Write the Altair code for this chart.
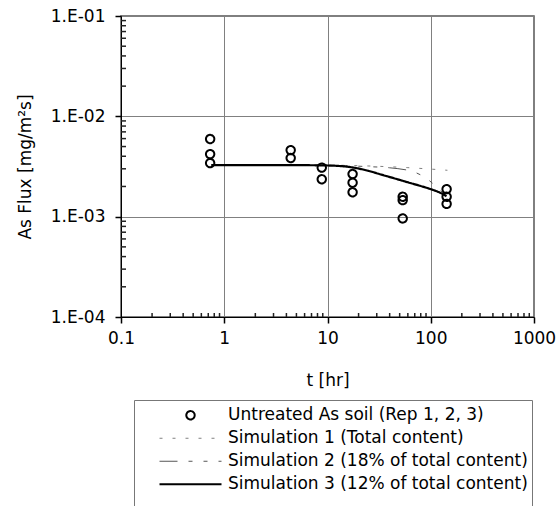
import altair as alt
import pandas as pd

# ---- data ----
series = [
    "Untreated As soil (Rep 1, 2, 3)",
    "Simulation 1 (Total content)",
    "Simulation 2 (18% of total content)",
    "Simulation 3 (12% of total content)",
]

obs_t = [0.73, 0.73, 0.73, 4.4, 4.4, 8.8, 8.8, 17.5, 17.5, 17.5,
         53.5, 53.5, 53.5, 142.5, 142.5, 142.5]
obs_flux = [5.94e-3, 4.2e-3, 3.42e-3, 4.6e-3, 3.84e-3, 3.08e-3, 2.36e-3,
            2.66e-3, 2.18e-3, 1.75e-3, 1.58e-3, 1.46e-3, 0.96e-3,
            1.88e-3, 1.58e-3, 1.34e-3]

sim1_t = [0.75, 10, 30, 60, 100, 145]
sim1_flux = [3.28e-3, 3.26e-3, 3.18e-3, 3.08e-3, 2.98e-3, 2.9e-3]

sim2_t = [0.75, 5, 15, 25, 40, 68, 91, 114, 140]
sim2_flux = [3.27e-3, 3.27e-3, 3.22e-3, 3.15e-3, 3.07e-3, 2.8e-3, 2.4e-3,
             1.98e-3, 1.62e-3]

sim3_t = [0.75, 3, 8, 13, 18, 25, 33, 45, 60, 80, 100, 125, 142]
sim3_flux = [3.27e-3, 3.27e-3, 3.25e-3, 3.2e-3, 3.08e-3, 2.86e-3, 2.63e-3,
             2.4e-3, 2.2e-3, 2.02e-3, 1.88e-3, 1.72e-3, 1.6e-3]

x_major_vals = [0.1, 1, 10, 100, 1000]
x_minor_vals = [m * d for d in [0.1, 1, 10, 100] for m in range(2, 10)]
y_major_vals = [1e-4, 1e-3, 1e-2, 1e-1]
y_minor_vals = [m * d for d in [1e-4, 1e-3, 1e-2] for m in range(2, 10)]

# ---- tables ----
obs_df = pd.DataFrame({"t": obs_t, "flux": obs_flux, "series": series[0]})
sim_df = pd.concat([
    pd.DataFrame({"t": sim1_t, "flux": sim1_flux, "series": series[1]}),
    pd.DataFrame({"t": sim2_t, "flux": sim2_flux, "series": series[2]}),
    pd.DataFrame({"t": sim3_t, "flux": sim3_flux, "series": series[3]}),
], ignore_index=True)
xminor_df = pd.DataFrame({"t": x_minor_vals, "base": y_major_vals[0]})
yminor_df = pd.DataFrame({"flux": y_minor_vals, "base": x_major_vals[0]})

FONT = "DejaVu Sans"

x_scale = alt.Scale(type="log", domain=[0.1, 1000], nice=False)
y_scale = alt.Scale(type="log", domain=[1e-4, 1e-1], nice=False)

color_s = alt.Scale(domain=series, range=["#000000", "#808080", "#555555", "#000000"])
shape_s = alt.Scale(domain=series, range=["circle", "stroke", "stroke", "stroke"])
size_s = alt.Scale(type="ordinal", domain=series, range=[70, 3844, 3844, 3844])
dash_s = alt.Scale(domain=series, range=[[1, 0], [3, 10], [18, 11, 4, 11, 4, 11], [1, 0]])
width_s = alt.Scale(type="ordinal", domain=series, range=[2, 1, 1, 2.2])

NBSP = "\u00a0" * 7
legend = alt.Legend(
    orient="none", legendX=13, legendY=384, direction="vertical",
    padding=4, clipHeight=22.5, rowPadding=0, symbolOffset=20, labelOffset=5,
    labelFont=FONT, labelFontSize=17, labelColor="black", labelLimit=500,
    labelExpr=f"datum.label + '{NBSP}'",
    strokeColor="#777777", fillColor="white",
    title=" ", titleOrient="bottom", titlePadding=6, titleFontSize=17,
)

x_axis = alt.Axis(
    values=x_major_vals, format="~g", title="t [hr]", orient="bottom",
    grid=True, ticks=True, tickSize=6, tickWidth=1.5, tickColor="black",
    labelPadding=7, titlePadding=26, labelFlush=False, labelOverlap=False,
)
y_axis = alt.Axis(
    values=y_major_vals, title="As Flux [mg/m\u00b2s]", orient="left",
    grid=True, ticks=True, tickSize=6, tickWidth=1.5, tickColor="black",
    labelPadding=10, titlePadding=16, labelFlush=False, labelOverlap=False,
    labelExpr="'1.E-0' + round(-log(datum.value) / LN10)",
)

# minor ticks, pointing into the plot
xminor = alt.Chart(xminor_df).mark_rule(color="#222222", strokeWidth=1.5, y2Offset=-4).encode(
    x=alt.X("t:Q", scale=x_scale, axis=x_axis),
    y=alt.Y("base:Q", scale=y_scale, axis=y_axis),
    y2="base:Q",
)
yminor = alt.Chart(yminor_df).mark_rule(color="#222222", strokeWidth=1.5, x2Offset=5).encode(
    y=alt.Y("flux:Q", scale=y_scale),
    x=alt.X("base:Q", scale=x_scale),
    x2="base:Q",
)

lines = alt.Chart(sim_df).mark_line(interpolate="monotone").encode(
    x=alt.X("t:Q", scale=x_scale),
    y=alt.Y("flux:Q", scale=y_scale),
    color=alt.Color("series:N", scale=color_s, legend=legend),
    strokeDash=alt.StrokeDash("series:N", scale=dash_s, legend=legend),
    strokeWidth=alt.StrokeWidth("series:N", scale=width_s, legend=legend),
)

points = alt.Chart(obs_df).mark_point(filled=False, opacity=1).encode(
    x=alt.X("t:Q", scale=x_scale),
    y=alt.Y("flux:Q", scale=y_scale),
    color=alt.Color("series:N", scale=color_s, legend=legend),
    shape=alt.Shape("series:N", scale=shape_s, legend=legend),
    size=alt.Size("series:N", scale=size_s, legend=legend),
    strokeDash=alt.StrokeDash("series:N", scale=dash_s, legend=legend),
    strokeWidth=alt.StrokeWidth("series:N", scale=width_s, legend=legend),
)

chart = alt.layer(xminor, yminor, lines, points).properties(
    width=413, height=301,
    autosize=alt.AutoSizeParams(type="none"),
    padding={"left": 121, "top": 16, "right": 25, "bottom": 189},
).configure_axis(
    labelFont=FONT, labelFontSize=17, labelColor="black",
    titleFont=FONT, titleFontSize=17, titleFontWeight="normal", titleColor="black",
    domainColor="black", gridColor="#808080", gridWidth=1,
).configure_view(
    stroke="#555555", strokeWidth=1.5,
)

chart.save("out.html", embed_options={"renderer": "svg", "actions": False})
